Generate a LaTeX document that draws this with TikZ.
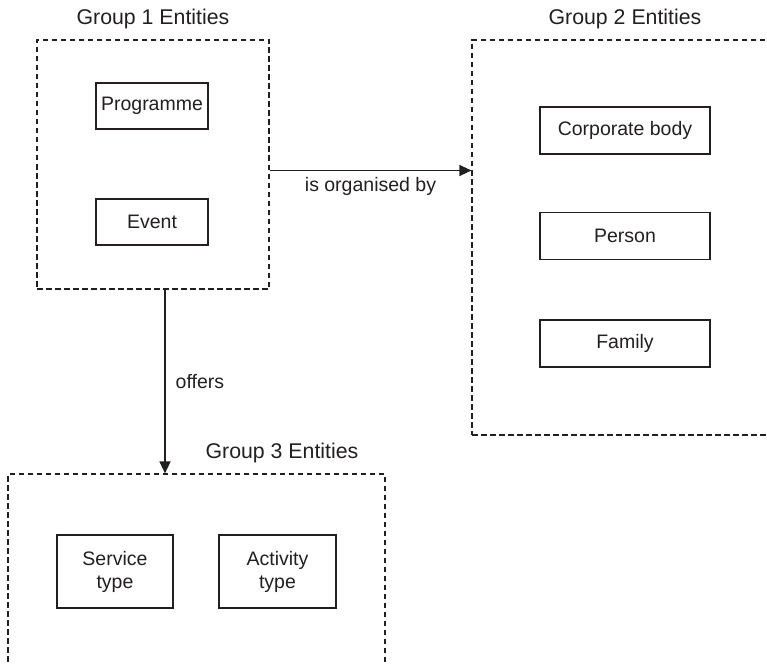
\documentclass[tikz,border=0pt]{standalone}
\usepackage{fontspec}
\setmainfont{Liberation Sans}
\usetikzlibrary{arrows.meta}
\definecolor{ink}{HTML}{231F20}
\begin{document}
\begin{tikzpicture}[x=1pt, y=-1pt,
    every node/.style={font=\fontsize{19.5}{23}\selectfont, text=ink},
    title/.style={font=\fontsize{21.3}{25}\selectfont},
    entity/.style={draw=ink, line width=1.4pt, align=center, inner sep=0pt},
    group/.style={draw=ink, line width=1.2pt, dash pattern=on 5.5pt off 3.5pt, inner sep=0pt},
    rel/.style={draw=ink, line width=1.4pt, -{Triangle[length=12pt, width=11pt]}}]
    \useasboundingbox (0,0) rectangle (767,663);
    \clip (0,0) rectangle (767,663);
    % groups
    \node[group, minimum width=232pt, minimum height=249pt] (g1) at (153,164.5) {};
    \node[group, minimum width=318pt, minimum height=395pt] (g2) at (631,237.5) {};
    \node[group, minimum width=377pt, minimum height=216pt] (g3) at (196.5,582) {};
    \node[title] (t1) at (153,19) {Group 1 Entities};
    \node[title] (t2) at (625,19) {Group 2 Entities};
    \node[title] (t3) at (282,453) {Group 3 Entities};
    % group 1
    \node[entity, minimum width=112pt, minimum height=46pt] (prog) at (152,106) {Programme};
    \node[entity, minimum width=112pt, minimum height=46pt] (event) at (152,222) {Event};
    % group 2
    \node[entity, minimum width=170pt, minimum height=47pt] (corp) at (625,130.5) {Corporate body};
    \node[entity, minimum width=170pt, minimum height=47pt] (pers) at (625,236) {Person};
    \node[entity, minimum width=170pt, minimum height=47pt] (fam) at (625,343.5) {Family};
    % group 3
    \node[entity, minimum width=116pt, minimum height=73pt] (serv) at (115,571.5) {Service\\type};
    \node[entity, minimum width=117pt, minimum height=73pt] (act) at (277.5,571.5) {Activity\\type};
    % relations
    \draw[rel] ([yshift=-6pt]g1.east) -- ([yshift=-6pt]g1.east -| g2.west)
        node[midway, below, yshift=-3pt] {is organised by};
    \draw[rel] ([xshift=12pt]g1.south) -- ([xshift=12pt]g1.south |- g3.north)
        node[midway, right, inner sep=0pt, xshift=10pt] {offers};
\end{tikzpicture}
\end{document}
